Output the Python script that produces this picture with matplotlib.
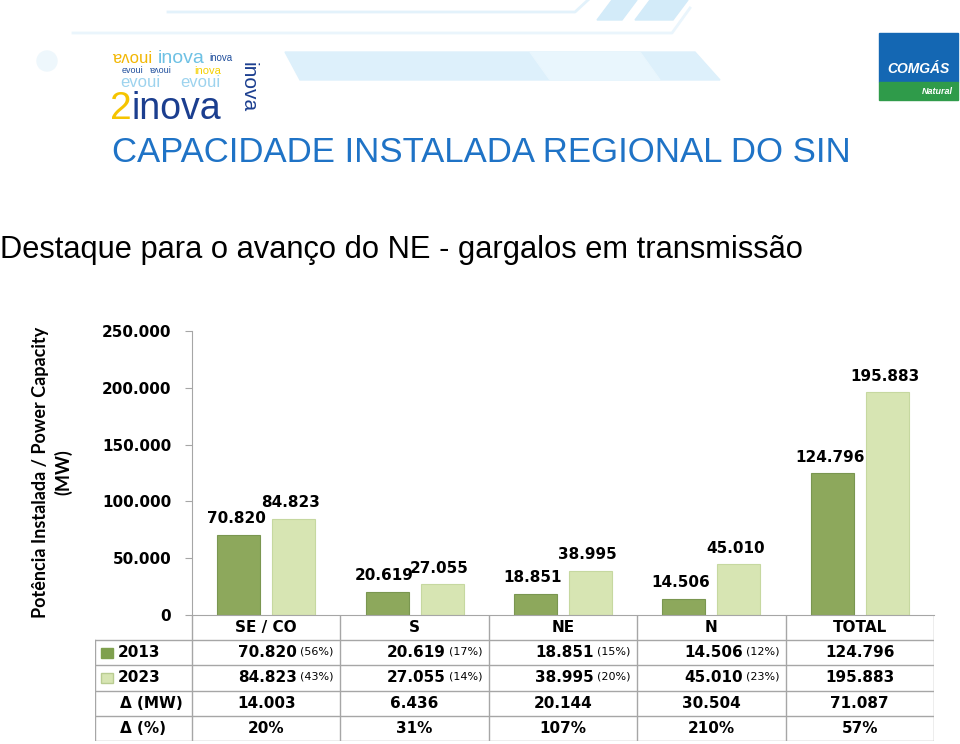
import numpy as np
import matplotlib.pyplot as plt
from matplotlib.patches import Rectangle, Polygon, Circle

# data
regions = ['SE / CO', 'S', 'NE', 'N', 'TOTAL']
cap_2013 = [70820, 20619, 18851, 14506, 124796]
cap_2023 = [84823, 27055, 38995, 45010, 195883]
share_2013 = ['(56%)', '(17%)', '(15%)', '(12%)', '']
share_2023 = ['(43%)', '(14%)', '(20%)', '(23%)', '']
delta_mw = ['14.003', '6.436', '20.144', '30.504', '71.087']
delta_pct = ['20%', '31%', '107%', '210%', '57%']
yticks = [0, 50000, 100000, 150000, 200000, 250000]

W, H = 960, 744
dark = '#8DA85C'
light = '#D7E5B3'
grid = '#A6A6A6'

def fmt(v):
    return f'{v:,}'.replace(',', '.')

def fx(px):
    return px / W

def fy(py):
    return 1 - py / H

fig = plt.figure(figsize=(9.6, 7.44), dpi=100)

# decorative background header
deco = fig.add_axes([0, 0, 1, 1])
deco.set_xlim(0, W)
deco.set_ylim(H, 0)
deco.axis('off')
deco.plot([168, 575, 588], [12, 12, 0], color='#E3F2FB', lw=2)
deco.plot([73, 672, 690], [33, 33, 8], color='#EAF5FC', lw=2)
deco.add_patch(Polygon([[285, 52], [695, 52], [720, 80], [300, 80]], color='#DDF0FB'))
deco.add_patch(Polygon([[530, 52], [640, 52], [660, 80], [550, 80]], color='#E9F6FD'))
deco.add_patch(Polygon([[612, 0], [637, 0], [622, 20], [597, 20]], color='#D3EBF9'))
deco.add_patch(Polygon([[650, 0], [688, 0], [673, 20], [635, 20]], color='#D3EBF9'))
deco.add_patch(Circle((47, 61), 10, color='#EEF7FC'))
# 2inova logo (approximation)
lf = 'Liberation Sans'
deco.text(112, 63, 'ɐʌoui', color='#F2B705', fontsize=12, family=lf)
deco.text(158, 63, 'inova', color='#6EC1E4', fontsize=14, family=lf)
deco.text(209, 61, 'inova', color='#1F4E9C', fontsize=7, family=lf)
deco.text(122, 73, 'evoui', color='#1F4E9C', fontsize=6.5, family=lf)
deco.text(150, 73, 'ɐʌoui', color='#1F4E9C', fontsize=6.5, family=lf)
deco.text(194, 74, 'inova', color='#F5D000', fontsize=8, family=lf)
deco.text(120, 87, 'evoui', color='#9DD3EE', fontsize=12, family=lf)
deco.text(180, 87, 'evoui', color='#9DD3EE', fontsize=12, family=lf)
deco.text(110, 119, '2', color='#F5C400', fontsize=28, family=lf)
deco.text(132, 119, 'inova', color='#1B3E8F', fontsize=27, family=lf)
deco.text(248, 87, 'inova', color='#1B3E8F', fontsize=15, rotation=-90,
          family=lf, ha='center', va='center')
# COMGAS logo
deco.add_patch(Rectangle((879, 33), 79, 49, color='#1467B3'))
deco.add_patch(Rectangle((879, 82), 79, 18, color='#2F9B4A'))
deco.text(918, 73, 'COMGÁS', color='white', fontsize=10, fontweight='bold',
          fontstyle='italic', ha='center', family=lf)
deco.text(953, 91, 'Natural', color='white', fontsize=6.5, fontweight='bold',
          fontstyle='italic', ha='right', va='center', family=lf)

fig.text(fx(112), fy(153), 'CAPACIDADE INSTALADA REGIONAL DO SIN', color='#1F73C6',
         fontsize=25, family=lf, va='center')
fig.text(fx(0), fy(250), 'Destaque para o avanço do NE - gargalos em transmissão',
         color='black', fontsize=22.2, family=lf, va='center')

# main bar chart
ax = fig.add_axes([fx(192), fy(615), fx(934) - fx(192), (615 - 331) / H])
x = np.arange(len(regions)) + 0.5
bw = 0.29
b1 = ax.bar(x - 0.185, cap_2013, bw, color=dark, edgecolor='#7A9650', linewidth=0.8)
b2 = ax.bar(x + 0.185, cap_2023, bw, color=light, edgecolor='#C6D8A0', linewidth=0.8)
for bars, vals in ((b1, cap_2013), (b2, cap_2023)):
    for r, v in zip(bars, vals):
        ax.annotate(fmt(v), (r.get_x() + r.get_width() / 2, v), xytext=(-2, 6),
                    textcoords='offset points', ha='center', va='bottom',
                    fontsize=11, fontweight='bold', family='DejaVu Sans')
ax.set_xlim(0, len(regions))
ax.set_ylim(0, 250000)
ax.set_yticks(yticks)
ax.set_yticklabels([fmt(t) for t in yticks], fontsize=11, fontweight='bold')
ax.set_xticks([])
ax.tick_params(axis='y', length=5, color=grid, pad=10)
for s in ('top', 'right'):
    ax.spines[s].set_visible(False)
ax.spines['left'].set_color(grid)
ax.spines['bottom'].set_color(grid)
fig.text(fx(52), fy(472), 'Potência Instalada / Power Capacity\n(MW)', rotation=90,
         ha='center', va='center', fontsize=13, fontweight='bold', family='Lato',
         linespacing=1.35)

# data table under the chart
tx0 = -(192 - 95) / (934 - 192) * len(regions)
tab = fig.add_axes([fx(95), fy(741), fx(934) - fx(95), (741 - 615) / H])
tab.set_xlim(tx0, len(regions))
tab.set_ylim(5, 0)
tab.axis('off')
for r in range(1, 6):
    tab.plot([tx0, len(regions)], [r, r], color=grid, lw=1)
tab.plot([tx0, tx0], [1, 5], color=grid, lw=1)
for c in range(len(regions) + 1):
    tab.plot([c, c], [0, 5], color=grid, lw=1)

lab_x = tx0 + 0.15
tab.add_patch(Rectangle((tx0 + 0.04, 1.3), 0.08, 0.4, color='#7FA04E'))
tab.add_patch(Rectangle((tx0 + 0.04, 2.3), 0.08, 0.4, color=light, ec='#B9CC92'))
row_labels = ['2013', '2023', 'Δ (MW)', 'Δ (%)']
for i, lab in enumerate(row_labels):
    tab.text(lab_x if i < 2 else tx0 + 0.17, i + 1.5, lab, ha='left', va='center',
             fontsize=11, fontweight='bold')

for i, reg in enumerate(regions):
    cx = i + 0.5
    tab.text(cx, 0.5, reg, ha='center', va='center', fontsize=11, fontweight='bold')
    for row, vals, shares in ((1, cap_2013, share_2013), (2, cap_2023, share_2023)):
        if shares[i]:
            tab.text(cx + 0.21, row + 0.5, fmt(vals[i]), ha='right', va='center',
                     fontsize=11, fontweight='bold')
            tab.text(cx + 0.23, row + 0.45, shares[i], ha='left', va='center',
                     fontsize=8)
        else:
            tab.text(cx, row + 0.5, fmt(vals[i]), ha='center', va='center',
                     fontsize=11, fontweight='bold')
    tab.text(cx, 3.5, delta_mw[i], ha='center', va='center', fontsize=11,
             fontweight='bold')
    tab.text(cx, 4.5, delta_pct[i], ha='center', va='center', fontsize=11,
             fontweight='bold')

fig.savefig('out.png', dpi=100)
